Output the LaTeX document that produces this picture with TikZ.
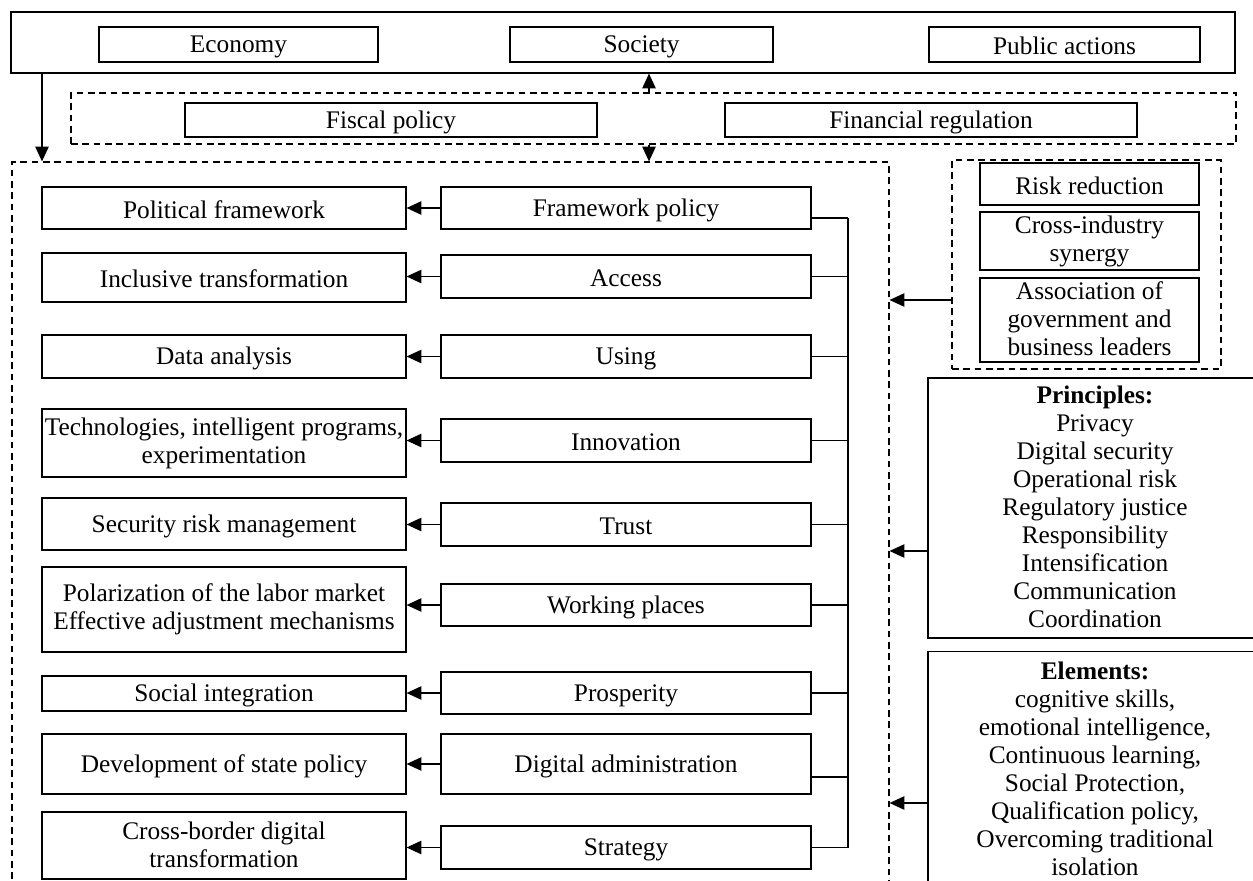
\documentclass[tikz,border=0pt]{standalone}
\usepackage{fontspec}
\setmainfont{Liberation Serif}
\usetikzlibrary{arrows.meta,fit}
\newcommand{\puntal}{\rule[-1.8pt]{0pt}{18.6pt}}
\tikzset{
	caja/.style={draw, line width=0.9pt, align=center, inner sep=0pt,
		execute at begin node=\puntal, execute at end node=\puntal},
	marco/.style={draw, dash pattern=on 5pt off 3.5pt, line width=0.9pt, inner sep=0pt},
	flecha/.style={line width=0.9pt, -{Triangle[length=11pt,width=10pt]}},
	linea/.style={line width=0.9pt},
}
\begin{document}
\begin{tikzpicture}[x=0.75pt, y=-0.75pt, font=\fontsize{19}{21}\selectfont]
		\useasboundingbox (0,0) rectangle (1253,881);
		% bloque superior
		\node[caja, fit={(11,12) (1235,73)}] (arriba) {};
		\node[caja, minimum width=209.25pt, minimum height=26.25pt] (eco) at (238.5,44.5) {Economy};
		\node[caja, minimum width=197.25pt, minimum height=26.25pt] (soc) at (641.5,44.5) {Society};
		\node[caja, minimum width=203.25pt, minimum height=26.25pt] (pub) at (1064.5,44.5) {Public actions};
		% politicas
		\node[marco, fit={(71,93) (1236,144)}] (medio) {};
		\node[caja, minimum width=309pt, minimum height=25.5pt] (fis) at (391,120) {Fiscal policy};
		\node[caja, minimum width=309pt, minimum height=25.5pt] (fin) at (931,120) {Financial regulation};
		% panel izquierdo
		\node[marco, fit={(12,162) (889,905)}] (panel) {};
		\node[caja, minimum width=273pt, minimum height=31.5pt] (l1) at (224,208) {Political framework};
		\node[caja, minimum width=273pt, minimum height=36.75pt] (l2) at (224,277.5) {Inclusive transformation};
		\node[caja, minimum width=273pt, minimum height=32.25pt] (l3) at (224,356.5) {Data analysis};
		\node[caja, minimum width=273pt, minimum height=51pt] (l4) at (224,443) {Technologies, intelligent programs,\\experimentation};
		\node[caja, minimum width=273pt, minimum height=39pt] (l5) at (224,524) {Security risk management};
		\node[caja, minimum width=273pt, minimum height=63.75pt] (l6) at (224,609.5) {Polarization of the labor market\\Effective adjustment mechanisms};
		\node[caja, minimum width=273pt, minimum height=26.25pt] (l7) at (224,693.5) {Social integration};
		\node[caja, minimum width=273pt, minimum height=45pt] (l8) at (224,764) {Development of state policy};
		\node[caja, minimum width=273pt, minimum height=50.25pt] (l9) at (224,845.5) {Cross-border digital\\transformation};
		\node[caja, minimum width=277.5pt, minimum height=31.5pt] (m1) at (626,208) {Framework policy};
		\node[caja, minimum width=277.5pt, minimum height=32.25pt] (m2) at (626,276.5) {Access};
		\node[caja, minimum width=277.5pt, minimum height=32.25pt] (m3) at (626,356.5) {Using};
		\node[caja, minimum width=277.5pt, minimum height=32.25pt] (m4) at (626,440.5) {Innovation};
		\node[caja, minimum width=277.5pt, minimum height=32.25pt] (m5) at (626,524.5) {Trust};
		\node[caja, minimum width=277.5pt, minimum height=31.5pt] (m6) at (626,605) {Working places};
		\node[caja, minimum width=277.5pt, minimum height=31.5pt] (m7) at (626,693) {Prosperity};
		\node[caja, minimum width=277.5pt, minimum height=45pt] (m8) at (626,764) {Digital administration};
		\node[caja, minimum width=277.5pt, minimum height=32.25pt] (m9) at (626,847.5) {Strategy};
		% grupo derecho
		\node[marco, fit={(952,160) (1221,369)}] (grupo) {};
		\node[caja, minimum width=164.25pt, minimum height=31.5pt] (r1) at (1089.5,184) {Risk reduction};
		\node[caja, minimum width=164.25pt, minimum height=43.5pt] (r2) at (1089.5,241) {Cross-industry\\synergy};
		\node[caja, minimum width=164.25pt, minimum height=63pt] (r3) at (1089.5,320) {Association of\\government and\\business leaders};
		\node[caja, minimum width=250.5pt, minimum height=195pt] (prin) at (1095,508) {\textbf{Principles:}\\Privacy\\Digital security\\Operational risk\\Regulatory justice\\Responsibility\\Intensification\\Communication\\Coordination};
		\node[caja, minimum width=250.5pt, inner ysep=8pt, anchor=north] (elem) at (1095,651) {\textbf{Elements:}\\cognitive skills,\\emotional intelligence,\\Continuous learning,\\Social Protection,\\Qualification policy,\\Overcoming traditional\\isolation};
		% flechas
		\coordinate (xa) at (42,0);
		\coordinate (xc) at (649,0);
		\coordinate (bus) at (848,0);
		\draw[flecha] (xa |- arriba.south) -- (xa |- panel.north);
		\draw[flecha] (xc |- medio.north) -- (xc |- arriba.south);
		\draw[flecha] (xc |- medio.south) -- (xc |- panel.north);
		\foreach \i in {1,...,9}
		\draw[flecha] (m\i.west) -- (m\i.west -| l\i.east);
		\foreach \i/\d in {1/-7.5pt,2/0pt,3/0pt,4/0pt,5/0pt,6/0pt,7/0pt,8/-9.75pt,9/0pt}
		\draw[linea] ([yshift=\d]m\i.east) -- ([yshift=\d]m\i.east -| bus);
		\draw[linea] ([yshift=-7.5pt]m1.east -| bus) -- (m9.east -| bus); % bus
		\coordinate (ya) at (0,300);
		\coordinate (yb) at (0,551);
		\coordinate (yc) at (0,803);
		\draw[flecha] (grupo.west |- ya) -- (panel.east |- ya);
		\draw[flecha] (prin.west |- yb) -- (panel.east |- yb);
		\draw[flecha] (elem.west |- yc) -- (panel.east |- yc);
\end{tikzpicture}
\end{document}
